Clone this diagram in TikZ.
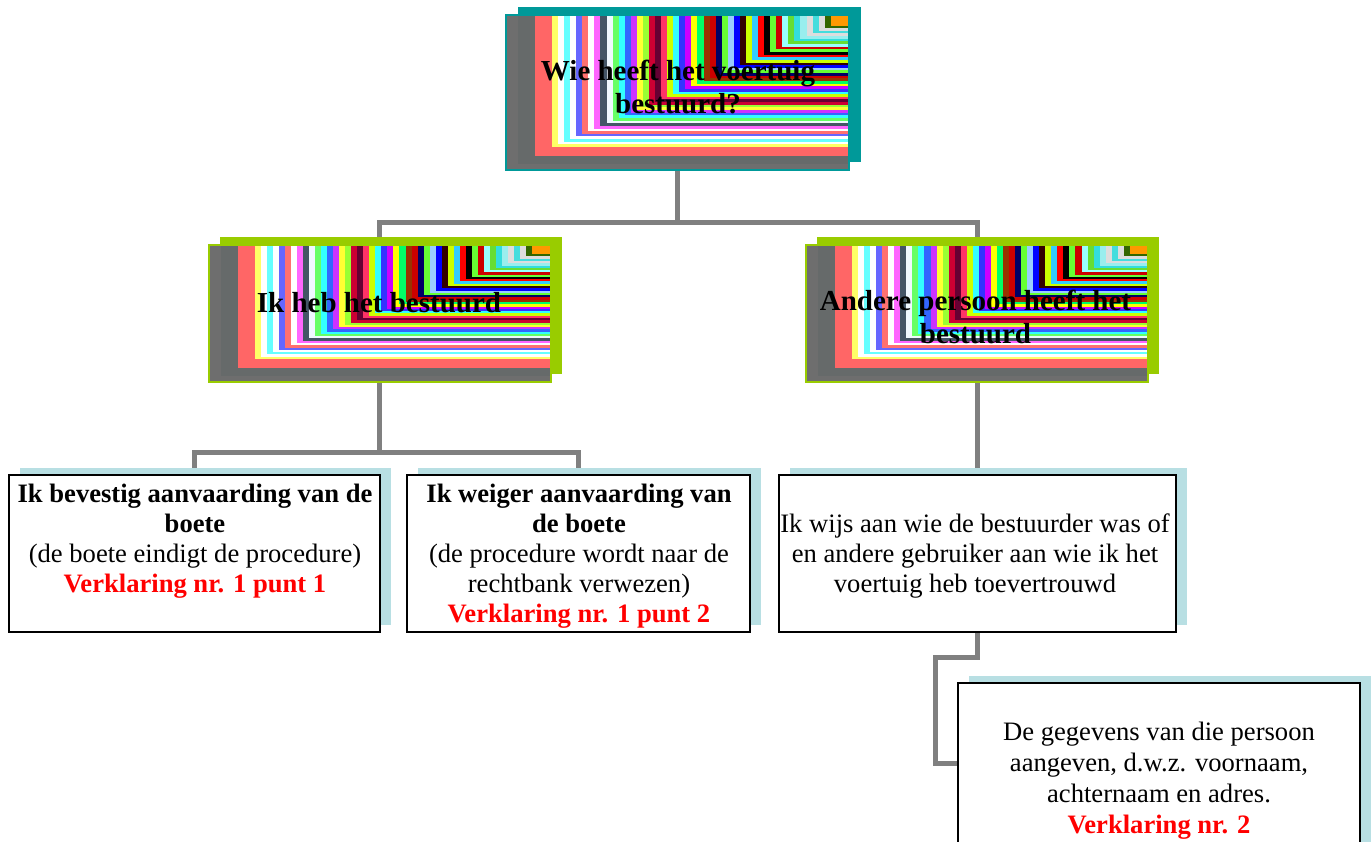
\documentclass[tikz,border=0pt]{standalone}
\usepackage{fontspec}
\setmainfont{Liberation Serif}
\usetikzlibrary{calc}
\pgfdeclarelayer{bg}
\pgfsetlayers{bg,main}
\definecolor{tealc}{HTML}{009999}
\definecolor{greenc}{HTML}{99CC00}
\definecolor{shadowblue}{HTML}{B8DFE3}
\definecolor{connc}{HTML}{808080}
\definecolor{stripgray}{HTML}{6E6E6E}
\definecolor{stripgrayb}{HTML}{666A6A}
\definecolor{stripred}{HTML}{FF6666}
\definecolor{redtext}{HTML}{FF0000}
\newcommand{\stripecolors}{FFFF66,FFFFFF,66FFFF,FFFFFF,6666FF,FF7070,FFFFFF,FF66FF,445566,F0F8FF,66FF66,33FFFF,3366FF,CC33FF,FFFF33,99FF33,CC0033,660033,FF3366,CCFF00,33FFFF,3333FF,CC00FF,FFFF00,00FF66,993300,CC0000,000066,66FF33,99CCFF,0000FF,330000,CCFF00,33CCFF,FF0000,000000,66FF33,CC0000,99FFFF,66DD33,33DDDD,99EEEE,DDDDDD,44DDDD,DDDDDD,336600,FF9900}
\tikzset{
  conn/.style={draw=connc, line width=5pt},
  stripebox/.style n args={4}{minimum width=#1, minimum height=#2, inner sep=0pt, outer sep=0pt, line width=2pt,
    path picture={
      \coordinate (pnw) at (path picture bounding box.north west);
      \coordinate (pse) at (path picture bounding box.south east);
      \fill[stripgray] (pnw) rectangle (pse);
      \fill[stripgrayb] ($(pnw)+(12,0)$) rectangle ($(pse)+(0,-6)$);
      \fill[stripred] ($(pnw)+(29,0)$) rectangle ($(pse)+(0,-14)$);
      \foreach \c [count=\i] in \stripecolors {
        \definecolor{tmpc}{HTML}{\c}
        \fill[tmpc] ($(pnw)+(46+\i*#3-#3,0)$) rectangle ($(pse)+(0,-23-\i*#4+#4)$);
      }
    }},
  lowbox/.style={draw=black, fill=white, line width=2pt, inner sep=0pt, outer sep=0pt},
  titletext/.style={font=\fontsize{29}{33}\selectfont\bfseries, align=center, inner sep=0pt},
  bodytext/.style={font=\fontsize{26.6}{30}\selectfont, align=center, inner sep=0pt},
}
\begin{document}
\begin{tikzpicture}[x=1pt,y=-1pt]
\useasboundingbox (0,0) rectangle (1372,841);
% boxes
\node[stripebox={343pt}{155pt}{6.06}{2.64}, draw=tealc] (top) at (677.5,92.5) {};
\node[stripebox={342pt}{137pt}{6.04}{2.28}, draw=greenc] (mleft) at (379.5,313.5) {};
\node[stripebox={342pt}{137pt}{6.04}{2.28}, draw=greenc] (mright) at (977,313.5) {};
\node[lowbox, minimum width=371pt, minimum height=157pt] (b1) at (194.5,553.5) {};
\node[lowbox, minimum width=343pt, minimum height=157pt] (b2) at (578.5,553.5) {};
\node[lowbox, minimum width=397pt, minimum height=157pt] (b3) at (977,553.5) {};
\node[lowbox, minimum width=402pt, minimum height=177pt] (b4) at (1159,771.5) {};
% texts
\node[titletext] (t0) at (678,86.5) {Wie heeft het voertuig\\bestuurd?};
\node[titletext, anchor=base] (t1) at (379,312) {Ik heb het bestuurd};
\node[titletext] (t2) at (975.5,316.5) {Andere persoon heeft het\\bestuurd};
\node[bodytext] (t3) at (195,541) {\textbf{Ik bevestig aanvaarding van de}\\\textbf{boete}\\(de boete eindigt de procedure)\\\textcolor{redtext}{\textbf{Verklaring nr. 1 punt 1}}};
\node[bodytext] (t4) at (579,556) {\textbf{Ik weiger aanvaarding van}\\\textbf{de boete}\\(de procedure wordt naar de\\rechtbank verwezen)\\\textcolor{redtext}{\textbf{Verklaring nr. 1 punt 2}}};
\node[bodytext] (t5) at (975,555.5) {Ik wijs aan wie de bestuurder was of\\en andere gebruiker aan wie ik het\\voertuig heb toevertrouwd};
\node[bodytext, font=\fontsize{26.6}{31.2}\selectfont] (t6) at (1159,780.5) {De gegevens van die persoon\\aangeven, d.w.z. voornaam,\\achternaam en adres.\\\textcolor{redtext}{\textbf{Verklaring nr. 2}}};
\coordinate (k) at (935,763);
\begin{pgfonlayer}{bg}
  \draw[conn] (top.south) -- ++(0,52) -| (mleft.north);
  \draw[conn] (top.south) -- ++(0,52) -| (mright.north);
  \draw[conn] (mleft.south) -- ++(0,70) -| (b1.north);
  \draw[conn] (mleft.south) -- ++(0,70) -| (b2.north);
  \draw[conn] (mright.south) -- (b3.north);
  \draw[conn] (b3.south) -- ++(0,25) -| (k) -- (k -| b4.west);
  \fill[tealc] ([shift={(12pt,8pt)}]top.south west) rectangle ([shift={(12pt,8pt)}]top.north east);
  \fill[greenc] ([shift={(11pt,8pt)}]mleft.south west) rectangle ([shift={(11pt,8pt)}]mleft.north east);
  \fill[greenc] ([shift={(11pt,8pt)}]mright.south west) rectangle ([shift={(11pt,8pt)}]mright.north east);
  \foreach \b in {b1,b2,b3,b4}
    \fill[shadowblue] ([shift={(11pt,7.5pt)}]\b.south west) rectangle ([shift={(11pt,7.5pt)}]\b.north east);
\end{pgfonlayer}
\end{tikzpicture}
\end{document}
